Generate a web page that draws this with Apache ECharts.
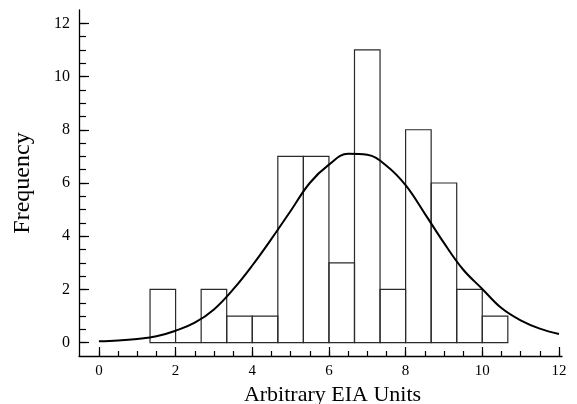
<!DOCTYPE html>
<html>
<head>
<meta charset="utf-8">
<script src="https://cdn.jsdelivr.net/npm/echarts@6/dist/echarts.min.js"></script>
<style>html,body{margin:0;padding:0;background:#fff}#c{width:577px;height:404px}</style>
</head>
<body>
<div id="c"></div>
<script>
// Histogram bins: left edge, right edge, frequency
var binStart = [1.3333, 2.0, 2.6667, 3.3333, 4.0, 4.6667, 5.3333, 6.0, 6.6667, 7.3333, 8.0, 8.6667, 9.3333, 10.0];
var binEnd   = [2.0, 2.6667, 3.3333, 4.0, 4.6667, 5.3333, 6.0, 6.6667, 7.3333, 8.0, 8.6667, 9.3333, 10.0, 10.6667];
var binCount = [2, 0, 2, 1, 1, 7, 7, 3, 11, 2, 8, 6, 2, 1];

// Fitted curve
var curveX = [0, 0.5, 1, 1.5, 2, 2.5, 3, 3.5, 4, 4.5, 5, 5.5, 6, 6.5, 7, 7.5, 8, 8.5, 9, 9.5, 10, 10.5, 11, 11.5, 12];
var curveY = [0.05, 0.08, 0.14, 0.24, 0.45, 0.75, 1.25, 2.0, 2.9, 3.9, 4.95, 6.0, 6.69, 7.1, 7.06, 6.65, 5.92, 4.85, 3.75, 2.75, 2.02, 1.3, 0.84, 0.53, 0.33];

// Tick values
var xLabels = [0, 2, 4, 6, 8, 10, 12];
var xMinor = [0,0.5,1,1.5,2,2.5,3,3.5,4,4.5,5,5.5,6,6.5,7,7.5,8,8.5,9,9.5,10,10.5,11,11.5,12];
var yLabels = [0, 2, 4, 6, 8, 10, 12];
var yMinor = [0,0.5,1,1.5,2,2.5,3,3.5,4,4.5,5,5.5,6,6.5,7,7.5,8,8.5,9,9.5,10,10.5,11,11.5,12];

var barData = binStart.map(function (s, i) { return [s, binEnd[i], binCount[i]]; });
var lineData = curveX.map(function (x, i) { return [x, curveY[i]]; });

var FONT = 'Liberation Serif';
var chart = echarts.init(document.getElementById('c'));
var xBase = {
  type: 'value', min: -0.52, max: 12.08, splitLine: {show: false},
  axisLine: {show: true, onZero: false, lineStyle: {color: '#000', width: 1.3}}
};
var yBase = {
  type: 'value', min: -0.5, max: 12.5, splitLine: {show: false},
  axisLine: {show: true, onZero: false, lineStyle: {color: '#000', width: 1.3}}
};
chart.setOption({
  animation: false,
  backgroundColor: '#fff',
  grid: {left: 79, top: 10, width: 483, height: 346, containLabel: false, outerBoundsMode: 'none'},
  xAxis: [
    Object.assign({}, xBase, {
      name: 'Arbitrary EIA Units', nameLocation: 'middle', nameGap: 23,
      nameTextStyle: {fontFamily: FONT, fontSize: 22, color: '#000', padding: [0, 0, 0, 24]},
      axisTick: {show: true, inside: true, length: 5, customValues: xMinor, lineStyle: {color: '#000', width: 1.2}},
      axisLabel: {show: true, customValues: xLabels, fontFamily: FONT, fontSize: 15, color: '#000', margin: 8}
    }),
    Object.assign({}, xBase, {
      position: 'bottom',
      axisLine: {show: false, onZero: false},
      axisTick: {show: true, inside: true, length: 9, customValues: xLabels, lineStyle: {color: '#000', width: 1.2}},
      axisLabel: {show: false}
    })
  ],
  yAxis: [
    Object.assign({}, yBase, {
      name: 'Frequency', nameLocation: 'middle', nameGap: 44, nameRotate: 90,
      nameTextStyle: {fontFamily: FONT, fontSize: 24, color: '#000'},
      axisTick: {show: true, inside: true, length: 7, customValues: yMinor, lineStyle: {color: '#000', width: 1.2}},
      axisLabel: {show: true, customValues: yLabels, fontFamily: FONT, fontSize: 16, color: '#000', margin: 9}
    }),
    Object.assign({}, yBase, {
      position: 'left',
      axisLine: {show: false, onZero: false},
      axisTick: {show: true, inside: true, length: 10, customValues: yLabels, lineStyle: {color: '#000', width: 1.2}},
      axisLabel: {show: false}
    })
  ],
  series: [
    {
      type: 'custom',
      xAxisIndex: 0, yAxisIndex: 0,
      data: barData,
      renderItem: function (params, api) {
        var p0 = api.coord([api.value(0), 0]);
        var p1 = api.coord([api.value(1), api.value(2)]);
        return {
          type: 'rect',
          shape: {x: p0[0], y: p1[1], width: p1[0] - p0[0], height: p0[1] - p1[1]},
          style: {fill: 'rgba(255,255,255,0)', stroke: '#2a2a2a', lineWidth: 1.2}
        };
      },
      z: 2
    },
    {
      type: 'line',
      xAxisIndex: 0, yAxisIndex: 0,
      data: lineData,
      smooth: 0.4,
      showSymbol: false,
      lineStyle: {color: '#000', width: 2},
      z: 3
    }
  ]
});
</script>
</body>
</html>
